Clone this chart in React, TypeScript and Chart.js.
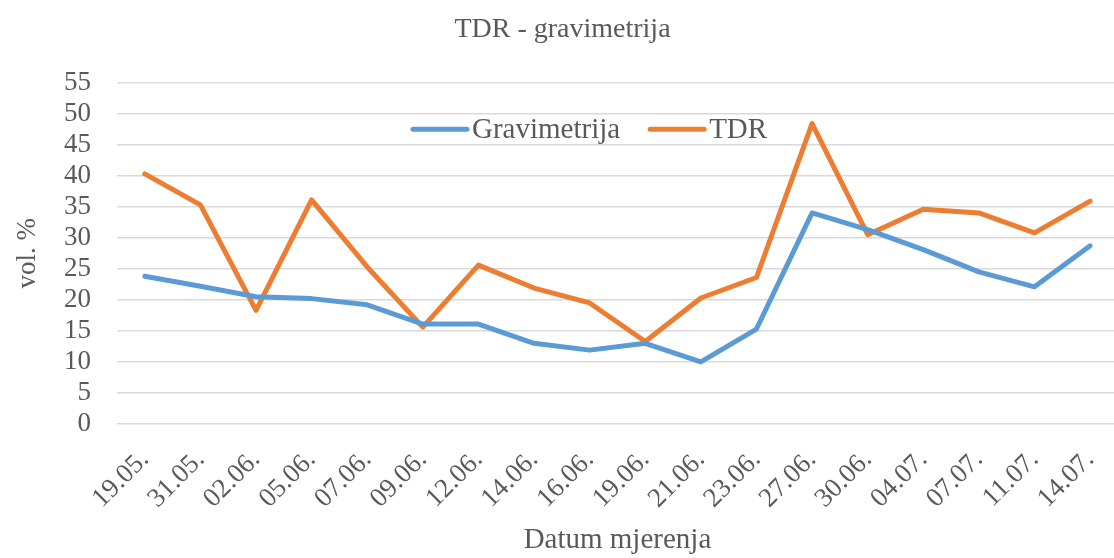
import React, { useEffect, useRef } from "react";
import { Chart, registerables } from "chart.js";

Chart.register(...registerables);

const labels = ["19.05.", "31.05.", "02.06.", "05.06.", "07.06.", "09.06.", "12.06.", "14.06.", "16.06.", "19.06.", "21.06.", "23.06.", "27.06.", "30.06.", "04.07.", "07.07.", "11.07.", "14.07."];
const gravimetrija = [23.8, 22.2, 20.5, 20.2, 19.2, 16.1, 16.1, 13.0, 11.9, 13.0, 10.0, 15.3, 34.0, 31.3, 28.1, 24.5, 22.1, 28.7];
const tdr = [40.3, 35.3, 18.3, 36.1, 25.3, 15.6, 25.6, 21.9, 19.5, 13.3, 20.3, 23.6, 48.4, 30.5, 34.6, 34.0, 30.8, 35.9];
const yMin = 0;
const yMax = 55;
const yStep = 5;

const BLUE = "#5B9BD5";
const ORANGE = "#ED7D31";
const TEXT = "#595959";
const FONT = "'Liberation Serif', 'Times New Roman', serif";

const insideLegend = {
  id: "insideLegend",
  afterDraw(chart: any) {
    const { ctx, chartArea } = chart;
    const y = chart.scales.y.getPixelForValue(47.5);
    ctx.save();
    ctx.font = `29px ${FONT}`;
    ctx.textBaseline = "middle";
    ctx.textAlign = "left";
    let x = chartArea.left + 296;
    chart.data.datasets.forEach((ds: any) => {
      ctx.strokeStyle = ds.borderColor;
      ctx.lineWidth = 5;
      ctx.lineCap = "round";
      ctx.beginPath();
      ctx.moveTo(x, y);
      ctx.lineTo(x + 54, y);
      ctx.stroke();
      ctx.fillStyle = TEXT;
      ctx.fillText(ds.label, x + 59, y + 1);
      x += 59 + ctx.measureText(ds.label).width + 30;
    });
    ctx.restore();
  },
};

export default function App() {
  const ref = useRef<HTMLCanvasElement>(null);
  useEffect(() => {
    if (!ref.current) return;
    const chart = new Chart(ref.current, {
      type: "line",
      data: {
        labels,
        datasets: [
          { label: "Gravimetrija", data: gravimetrija, borderColor: BLUE, backgroundColor: BLUE, borderWidth: 5, pointRadius: 0, tension: 0, borderCapStyle: "round", borderJoinStyle: "round" },
          { label: "TDR", data: tdr, borderColor: ORANGE, backgroundColor: ORANGE, borderWidth: 5, pointRadius: 0, tension: 0, borderCapStyle: "round", borderJoinStyle: "round" },
        ],
      },
      options: {
        responsive: false,
        animation: false,
        devicePixelRatio: 1,
        layout: { padding: 0 },
        plugins: {
          legend: { display: false },
          tooltip: { enabled: false },
          title: {
            display: true,
            text: "TDR - gravimetrija",
            color: TEXT,
            font: { family: FONT, size: 28, weight: "normal" },
            padding: { top: 13, bottom: 36 },
          },
        },
        scales: {
          x: {
            offset: true,
            grid: { display: false },
            border: { display: false },
            ticks: { color: TEXT, font: { family: FONT, size: 27 }, minRotation: 45, maxRotation: 45, autoSkip: false, padding: 12 },
            title: { display: true, text: "Datum mjerenja", color: TEXT, font: { family: FONT, size: 29 }, padding: 0 },
            afterFit(scale: any) { scale.height = 134; },
          },
          y: {
            min: yMin,
            max: yMax,
            grid: { color: "#D9D9D9", lineWidth: 1.5, drawTicks: false },
            border: { display: false },
            ticks: { stepSize: yStep, autoSkip: false, color: TEXT, font: { family: FONT, size: 27 }, padding: 26 },
            title: { display: true, text: "vol. %", color: TEXT, font: { family: FONT, size: 27 }, padding: { top: 12, bottom: 0 } },
            afterFit(scale: any) { scale.width = 117; },
          },
        },
      },
      plugins: [insideLegend],
    });
    return () => chart.destroy();
  }, []);
  return (
    <div style={{ position: "absolute", left: 0, top: 0, width: 1114, height: 558, overflow: "hidden", background: "#fff" }}>
      <canvas ref={ref} width={1125} height={558} style={{ display: "block" }} />
    </div>
  );
}
